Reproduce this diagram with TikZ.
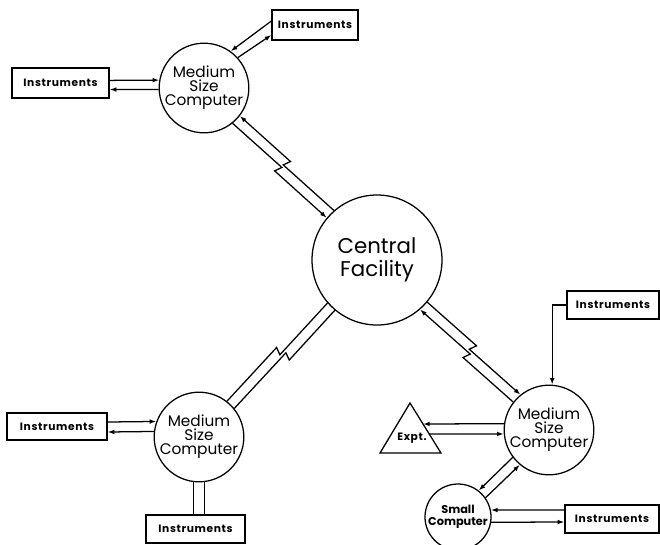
\documentclass[tikz,border=0pt]{standalone}
\usepackage{fontspec}
\setmainfont{Poppins}
\newfontfamily\spacedfont[LetterSpace=6]{Poppins}
\usetikzlibrary{arrows.meta,calc}
\begin{document}
\begin{tikzpicture}[x=0.75pt,y=-0.75pt,line width=0.95pt,
  comp/.style={draw,circle,inner sep=0pt,minimum size=66pt,align=center,
    font=\fontsize{11.5}{10.6}\selectfont},
  cfac/.style={draw,circle,inner sep=0pt,minimum size=97.5pt,align=center,
    font=\fontsize{16}{17}\selectfont},
  smallc/.style={draw,circle,inner sep=0pt,minimum size=49.5pt,align=center,
    font=\bfseries\fontsize{8.5}{9}\selectfont},
  instr/.style={draw,rectangle,inner sep=0pt,minimum width=#1,minimum height=21pt,
    font=\spacedfont\bfseries\fontsize{8}{8}\selectfont},
  arr/.style={-{Latex[open,length=5pt,width=3.5pt]}},
  zz/.style={to path={-- ($(\tikztostart)!#1!(\tikztotarget)!3pt!70:(\tikztotarget)$)
     -- ($(\tikztostart)!#1!(\tikztotarget)!3pt!-110:(\tikztotarget)$) -- (\tikztotarget)}}]
\useasboundingbox (0,0) rectangle (660,544);

% computers
\node[comp] (m1) at (204,88) {Medium\\Size\\Computer};
\node[cfac] (cf) at (377,260) {Central\\Facility};
\node[comp] (m2) at (199,437) {Medium\\Size\\Computer};
\node[comp] (m3) at (549,430) {Medium\\Size\\Computer};
\node[smallc] (sc) at (458,517) {Small\\Computer};

% instrument boxes
\node[instr=72.75pt,minimum height=22.5pt] (i1) at (60.5,83) {Instruments};
\node[instr=64.5pt,minimum height=22.5pt] (i2) at (315,25) {Instruments};
\node[instr=75pt,minimum height=20.25pt] (i3) at (57,426.5) {Instruments};
\node[instr=74.25pt] (i4) at (195.5,529) {Instruments};
\node[instr=69pt] (i5) at (613,305) {Instruments};
\node[instr=70.5pt] (i6) at (612,519) {Instruments};

% experiment triangle
\coordinate (ta) at (410,403);
\coordinate (tl) at (380,453);
\coordinate (tr) at (441,453);
\draw (ta) -- (tl) -- (tr) -- cycle;
\node[font=\spacedfont\bfseries\fontsize{8}{9}\selectfont] (ex) at (412,438) {Expt.};
\coordinate (e1) at ($(ta)!0.42!(tr)$);
\coordinate (e2) at ($(ta)!0.62!(tr)$);

% top-left computer links
\draw[arr] ($(i1.east)+(0,-2.6)$) -- (m1.170);
\draw[arr] (m1.182) -- ($(i1.east)+(0,6.5)$);
\draw[arr] ($(i2.west)+(0,-4)$) -- (m1.54);
\draw[arr] (m1.42) -- ($(i2.west)+(0,10)$);

% links to central facility
\draw[arr] (cf.131) to[zz=0.5] (m1.-38);
\draw[arr] (m1.-51) to[zz=0.485] (cf.140);
\draw (m2.52) to[zz=0.51] (cf.221);
\draw (m2.39) to[zz=0.53] (cf.230);
\draw[arr] (cf.-40) to[zz=0.49] (m3.129);
\draw[arr] (m3.142) to[zz=0.5] (cf.-49);

% bottom-left computer links
\draw[arr] ($(i3.east)+(0,-4.5)$) -- (m2.160);
\draw[arr] (m2.173) -- ($(i3.east)+(0,5.5)$);
\draw (m2.263) -- (m2.263 |- i4.north);
\draw (m2.277) -- (m2.277 |- i4.north);

% right computer links
\draw[arr] (i5.west) -| (m3.86);
\draw[arr] (m3.172) -- (e1);
\draw[arr] (e2) -- (m3.185);
\draw[arr] (m3.217) -- (sc.52);
\draw[arr] (sc.35) -- (m3.230);
\draw[arr] ($(i6.west)+(0,-9)$) -- (sc.12);
\draw[arr] (sc.-9) -- ($(i6.west)+(0,3)$);
\end{tikzpicture}
\end{document}
